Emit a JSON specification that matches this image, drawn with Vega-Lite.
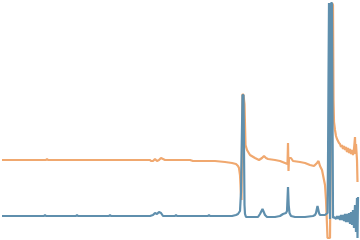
{
  "$schema": "https://vega.github.io/schema/vega-lite/v6.json",
  "width": 360,
  "height": 240,
  "padding": 0,
  "autosize": "none",
  "background": "white",
  "config": {"view": {"stroke": null}},
  "datasets": {
    "orange": [
      {"t":2,"v":80},{"t":20,"v":80},{"t":46,"v":80},{"t":47,"v":81},{"t":48,"v":80},{"t":80,"v":80},{"t":120,"v":80},{"t":150,"v":80},{"t":151,"v":79},{"t":153,"v":79},{"t":155,"v":81},{"t":157,"v":79},{"t":159,"v":80},{"t":161,"v":82},{"t":163,"v":81},{"t":165,"v":80},{"t":190,"v":80},{"t":193,"v":79},{"t":215,"v":79},{"t":225,"v":78},{"t":232,"v":77},{"t":236,"v":76},{"t":238,"v":74},{"t":239,"v":72},{"t":240,"v":65},{"t":241,"v":45},{"t":241.5,"v":40},{"t":242.5,"v":146},{"t":243.5,"v":145},{"t":244.5,"v":136},{"t":245.5,"v":95},{"t":247,"v":90},{"t":250,"v":85},{"t":255,"v":82},{"t":259,"v":80},{"t":262,"v":82},{"t":264,"v":84},{"t":266,"v":82},{"t":268,"v":81},{"t":275,"v":80},{"t":280,"v":79},{"t":285,"v":77},{"t":287.5,"v":76},{"t":288,"v":97},{"t":288.5,"v":69},{"t":289,"v":82},{"t":291,"v":82},{"t":293,"v":79},{"t":300,"v":78},{"t":305,"v":77},{"t":310,"v":75},{"t":314,"v":74},{"t":317,"v":77},{"t":318.5,"v":79},{"t":320,"v":74},{"t":322,"v":70},{"t":323,"v":65},{"t":324,"v":60},{"t":325,"v":55},{"t":326,"v":40},{"t":327,"v":15},{"t":327.5,"v":2},{"t":330,"v":2},{"t":331,"v":120},{"t":332,"v":237},{"t":333,"v":235},{"t":333.5,"v":140},{"t":334,"v":118},{"t":335,"v":110},{"t":336,"v":104},{"t":337,"v":101},{"t":338,"v":99},{"t":339,"v":97},{"t":340,"v":96},{"t":341,"v":93},{"t":342,"v":95},{"t":343,"v":91},{"t":344,"v":94},{"t":345,"v":90},{"t":346,"v":93},{"t":347,"v":88},{"t":348,"v":92},{"t":349,"v":87},{"t":350,"v":91},{"t":351,"v":86},{"t":352,"v":90},{"t":353,"v":85},{"t":354,"v":91},{"t":355,"v":103},{"t":355.5,"v":86},{"t":356,"v":96},{"t":357,"v":80},{"t":357.5,"v":58}
    ],
    "blue": [
      {"t":2,"v":24},{"t":44,"v":24},{"t":45,"v":25},{"t":46,"v":24},{"t":76,"v":24},{"t":77,"v":25},{"t":78,"v":24},{"t":109,"v":24},{"t":110,"v":25},{"t":111,"v":24},{"t":150,"v":24},{"t":153,"v":25},{"t":155,"v":27},{"t":157,"v":26},{"t":159,"v":28},{"t":161,"v":27},{"t":163,"v":24},{"t":175,"v":24},{"t":176,"v":25},{"t":177,"v":24},{"t":208,"v":24},{"t":209,"v":25},{"t":210,"v":24},{"t":232,"v":24},{"t":236,"v":25},{"t":238,"v":26},{"t":240,"v":29},{"t":241,"v":48},{"t":242.5,"v":145},{"t":243.5,"v":145},{"t":244.5,"v":35},{"t":245,"v":26},{"t":246,"v":23},{"t":250,"v":23},{"t":258,"v":23},{"t":260,"v":26},{"t":262.5,"v":31},{"t":265,"v":25},{"t":267,"v":23},{"t":275,"v":23},{"t":280,"v":24},{"t":283,"v":26},{"t":286,"v":27},{"t":287,"v":29},{"t":288,"v":53},{"t":288.7,"v":35},{"t":289.5,"v":27},{"t":291,"v":24},{"t":295,"v":23},{"t":305,"v":23},{"t":313,"v":24},{"t":315,"v":25},{"t":316,"v":27},{"t":317.5,"v":34},{"t":319,"v":27},{"t":320,"v":25},{"t":325,"v":25},{"t":327.5,"v":27},{"t":328,"v":77},{"t":328.5,"v":162},{"t":329,"v":237},{"t":330,"v":21},{"t":331,"v":237},{"t":332,"v":237},{"t":333,"v":22},{"t":334,"v":23},{"t":336,"v":21},{"t":337,"v":24},{"t":338,"v":21},{"t":339,"v":24},{"t":340,"v":20},{"t":341,"v":25},{"t":342,"v":20},{"t":343,"v":25},{"t":344,"v":19},{"t":345,"v":26},{"t":346,"v":18},{"t":347,"v":26},{"t":348,"v":18},{"t":349,"v":27},{"t":350,"v":16},{"t":351,"v":28},{"t":352,"v":15},{"t":353,"v":30},{"t":354,"v":12},{"t":355,"v":35},{"t":356,"v":8},{"t":357,"v":42},{"t":357.5,"v":2},{"t":358,"v":43}
    ]
  },
  "layer": [
    {
      "data": {"name": "orange"},
      "mark": {"type": "line", "color": "#f0a86f", "strokeWidth": 2.2, "strokeJoin": "bevel", "clip": false},
      "encoding": {
        "x": {"field": "t", "type": "quantitative", "scale": {"domain": [0, 360], "nice": false, "zero": false}, "axis": null},
        "y": {"field": "v", "type": "quantitative", "scale": {"domain": [0, 240], "nice": false, "zero": false}, "axis": null}
      }
    },
    {
      "data": {"name": "blue"},
      "mark": {"type": "line", "color": "#5f8fad", "strokeWidth": 2.2, "strokeJoin": "bevel", "clip": false},
      "encoding": {
        "x": {"field": "t", "type": "quantitative", "scale": {"domain": [0, 360], "nice": false, "zero": false}, "axis": null},
        "y": {"field": "v", "type": "quantitative", "scale": {"domain": [0, 240], "nice": false, "zero": false}, "axis": null}
      }
    }
  ]
}
